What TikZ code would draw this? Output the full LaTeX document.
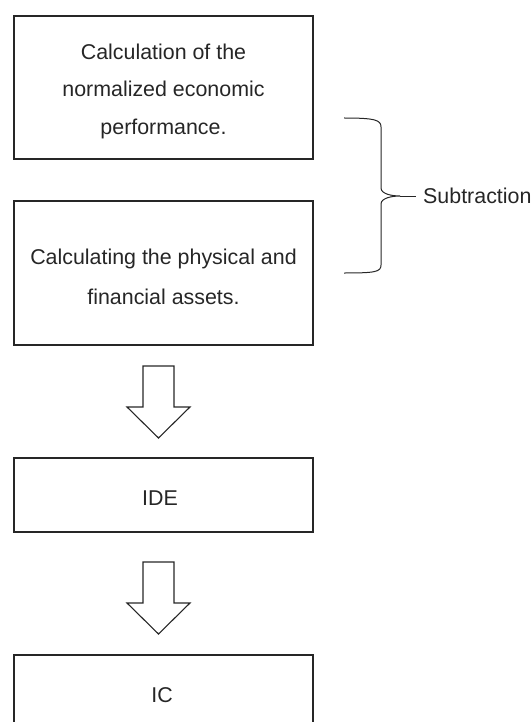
\documentclass[tikz,border=0pt]{standalone}
\usepackage{fontspec}
\setmainfont{Liberation Sans}
\begin{document}
\begin{tikzpicture}[x=1pt,y=-1pt,
  ink/.style={draw=black!85, line width=1.1pt},
  boxnode/.style={ink, rectangle, inner sep=0pt, minimum width=299pt},
  lbl/.style={text=black!85, font=\fontsize{21.4}{37.5}\selectfont, align=center, inner sep=0pt},
  blockarrow/.style={ink, line join=miter}]
\useasboundingbox (0,0) rectangle (531,722);
\clip (0,0) rectangle (531,722);
% boxes
\node[boxnode, minimum height=143pt] (b1) at (163.5,87.5) {};
\node[lbl] (t1) at (163.5,91) {Calculation of the\\normalized economic\\performance.};
\node[boxnode, minimum height=144pt] (b2) at (163.5,273) {};
\node[lbl, font=\fontsize{21.4}{40}\selectfont] (t2) at (163.5,277) {Calculating the physical and\\financial assets.};
\node[boxnode, minimum height=74pt] (b3) at (163.5,495) {};
\node[lbl] (t3) at (160,498) {IDE};
\node[boxnode, minimum height=85pt] (b4) at (163.5,697.5) {};
\node[lbl] (t4) at (162,695) {IC};
% block arrows
\coordinate (a1) at (158.5,366);
\coordinate (a2) at (158.5,562);
\foreach \a in {a1,a2}{
  \draw[blockarrow] (\a) ++(-15.5,0) -- ++(31,0) -- ++(0,41) -- ++(16,0)
     -- ++(-31.5,31) -- ++(-31.5,-31) -- ++(16,0) -- cycle;
}
% brace
\coordinate (btop) at (344,118);
\coordinate (bbot) at (344,273);
\coordinate (btip) at (400,196);
\draw[ink, line width=1pt] (btop) .. controls (375,118) and (381,120) .. (381,127)
  -- (381,188) .. controls (381,194) and (392,196) .. (btip)
  .. controls (392,196) and (381,198) .. (381,204)
  -- (381,265) .. controls (381,272) and (375,273) .. (bbot);
\node[lbl, anchor=west, inner xsep=7pt] (sub) at (416,196) {Subtraction};
\draw[ink, line width=1pt] (btip) -- (sub.west);
\end{tikzpicture}
\end{document}
